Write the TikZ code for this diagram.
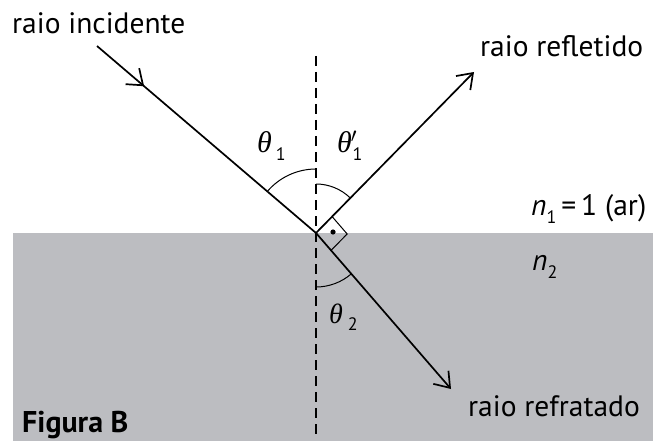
\documentclass[tikz,border=0pt]{standalone}
\usepackage{fontspec}
\setmainfont{PT Sans}
\newfontfamily\greekfont{Liberation Serif}
\usetikzlibrary{arrows.meta,decorations.markings,calc}
\definecolor{glass}{RGB}{188,189,193}
\newcommand{\thet}{{\greekfont\itshape θ}}
\begin{document}
\begin{tikzpicture}[x=1pt,y=-1pt,
  ray/.style={line width=1.7pt,black},
  barb/.style={-{Straight Barb[length=14pt,width=20pt,line width=1.7pt]}},
  anglearc/.style={line width=1pt,black},
  lbl/.style={inner sep=0pt,anchor=base west,font=\fontsize{29.5}{29.5}\selectfont},
  greek/.style={inner sep=0pt,anchor=base west},
  normalline/.style={line width=1.6pt,dash pattern=on 10pt off 6pt}]
\useasboundingbox (0,0) rectangle (653,441);
\fill[glass] (13,233) rectangle (653,441);
\coordinate (O) at (316,233);
\coordinate (I) at (97,46);
\coordinate (R) at (474,72);
\coordinate (T) at (451,389);
\coordinate (Ntop) at (316,56);
\coordinate (Nbot) at (316,438);
\draw[normalline] (Ntop) -- (Nbot);
% incident ray with mid arrow
\draw[ray,postaction={decorate},decoration={markings,mark=at position 0.215 with {\arrow{Straight Barb[length=14pt,width=21pt,line width=1.7pt]}}}] (I) -- (O);
\draw[ray,barb] (O) -- (R);
\draw[ray,barb] (O) -- (T);
% angle arcs
\draw[anglearc] ($(O)+(90:-64)$) arc[start angle=-90,end angle=-139.5,radius=64];
\draw[anglearc] ($(O)+(0,-49)$) arc[start angle=-90,end angle=-45.5,radius=49];
\draw[anglearc] ($(O)+(0,54)$) arc[start angle=90,end angle=49,radius=54];
% right angle marker
\coordinate (A) at ($(O)!23pt!(R)$);
\coordinate (C) at ($(O)!23pt!(T)$);
\draw[line width=1pt] (A) -- ($(A)+(C)-(O)$) coordinate (B) -- (C);
\fill (333,232) circle[radius=2.6pt];
% labels
\node[lbl] (inc) at (12,34) {raio incidente};
\node[lbl] (ref) at (480,57) {raio refletido};
\node[lbl] (rfr) at (468,416) {raio refratado};
\node[inner sep=0pt,anchor=base west,font=\fontsize{30}{30}\selectfont\bfseries] (fig) at (22,432) {Figura B};
\node[greek] (t1) at (257,153) {\fontsize{30}{30}\selectfont\thet\hspace{4pt}\raisebox{-8pt}{\fontsize{18}{18}\selectfont 1}};
\node[greek] (t1p) at (337,153) {\fontsize{30}{30}\selectfont\thet\hspace{-1pt}\raisebox{10pt}{\fontsize{20}{20}\selectfont$\prime$}\hspace{-4pt}\raisebox{-8pt}{\fontsize{18}{18}\selectfont 1}};
\node[greek] (t2) at (329,323) {\fontsize{28}{28}\selectfont\thet\hspace{5pt}\raisebox{-7pt}{\fontsize{18}{18}\selectfont 2}};
\node[lbl] (n1) at (531,215) {\textit{n}\raisebox{-8pt}{\fontsize{18}{18}\selectfont 1}\,=\,1 (ar)};
\node[lbl] (n2) at (532,270) {\textit{n}\raisebox{-8pt}{\fontsize{18}{18}\selectfont 2}};
\end{tikzpicture}
\end{document}
